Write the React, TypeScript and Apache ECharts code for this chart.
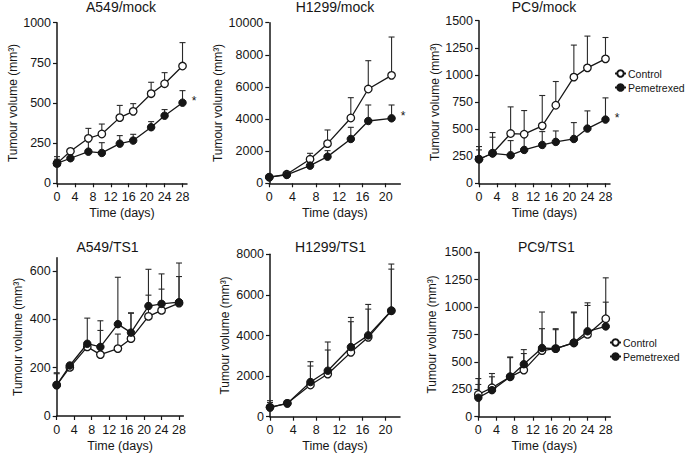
import React, { useEffect, useRef } from 'react';
import * as echarts from 'echarts';

// ---- data ----
const days28 = [0, 3, 7, 10, 14, 17, 21, 24, 28];
const days21 = [0, 3, 7, 10, 14, 17, 21];
const ticks28 = [0, 4, 8, 12, 16, 20, 24, 28];
const ticks20 = [0, 4, 8, 12, 16, 20];

const panelTitles = ['A549/mock', 'H1299/mock', 'PC9/mock', 'A549/TS1', 'H1299/TS1', 'PC9/TS1'];

// A549/mock
const a549MockControl = [124, 199, 280, 307, 409, 448, 558, 620, 730];
const a549MockControlTop = [166, null, 342, 369, 485, 496, 629, 689, 876];
const a549MockPem = [124, 156, 197, 189, 247, 266, 349, 421, 502];
const a549MockPemTop = [150, null, 270, 253, 297, 305, 384, 459, 577];
const a549MockYTicks = [0, 250, 500, 750, 1000];

// H1299/mock
const h1299MockControl = [380, 560, 1494, 2469, 4066, 5871, 6722];
const h1299MockControlTop = [null, null, 1867, 3320, 5332, 7635, 9108];
const h1299MockPem = [380, 520, 1100, 1660, 2760, 3880, 4046];
const h1299MockPemTop = [null, null, 1300, 2033, 3485, 4876, 4876];
const h1299MockYTicks = [0, 2000, 4000, 6000, 8000, 10000];

// PC9/mock
const pc9MockControl = [222, 277, 459, 453, 530, 720, 979, 1065, 1148];
const pc9MockControlTop = [339, 425, 705, 671, 810, 939, 1275, 1358, 1345];
const pc9MockPem = [222, 277, 259, 308, 354, 382, 409, 505, 588];
const pc9MockPemTop = [308, 468, 394, 477, 477, 483, 560, 668, 788];
const pc9MockYTicks = [0, 250, 500, 750, 1000, 1250, 1500];

// A549/TS1
const a549TsControl = [128, 201, 286, 254, 279, 320, 412, 437, 467];
const a549TsControlTop = [179, null, 300, 354, 339, 425, 500, 525, 577];
const a549TsPem = [128, 209, 299, 286, 380, 345, 455, 464, 471];
const a549TsPemTop = [175, null, 405, 394, 574, 427, 607, 588, 633];
const a549TsYTicks = [0, 200, 400, 600];

// H1299/TS1
const h1299TsControl = [460, 657, 1560, 2100, 3170, 3910, 5220];
const h1299TsControlTop = [790, null, 2496, 3285, 4680, 5300, 7270];
const h1299TsPem = [460, 657, 1707, 2266, 3430, 4006, 5220];
const h1299TsPemTop = [700, null, 2710, 3680, 4890, 5530, 7520];
const h1299TsYTicks = [0, 2000, 4000, 6000, 8000];

// PC9/TS1
const pc9TsControl = [203, 264, 364, 425, 603, 621, 673, 751, 894];
const pc9TsControlTop = [348, 394, 545, 612, 955, 803, 955, 1039, 1267];
const pc9TsPem = [173, 242, 364, 479, 627, 621, 676, 779, 824];
const pc9TsPemTop = [294, 364, 539, 576, 803, 794, 948, 1015, 1045];
const pc9TsYTicks = [0, 250, 500, 750, 1000, 1250, 1500];

const FONT = '"Liberation Sans", Arial, Helvetica, sans-serif';
const INK = '#161616';

type Panel = {
  title: string;
  days: number[];
  xTicks: number[];
  xMax: number;
  yTicks: number[];
  yMax: number;
  control: number[];
  controlTop: (number | null)[];
  pem: number[];
  pemTop: (number | null)[];
  star: boolean;
  grid: { left: number; top: number; width: number; height: number };
  titlePos: [number, number];
  nameGap: number;
};

const panels: Panel[] = [
  {
    title: panelTitles[0], days: days28, xTicks: ticks28, xMax: 29, yTicks: a549MockYTicks, yMax: 1000,
    control: a549MockControl, controlTop: a549MockControlTop, pem: a549MockPem, pemTop: a549MockPemTop, star: true,
    grid: { left: 57, top: 22.7, width: 130, height: 160.6 }, titlePos: [121, 8], nameGap: 36,
  },
  {
    title: panelTitles[1], days: days21, xTicks: ticks20, xMax: 22.5, yTicks: h1299MockYTicks, yMax: 10000,
    control: h1299MockControl, controlTop: h1299MockControlTop, pem: h1299MockPem, pemTop: h1299MockPemTop, star: true,
    grid: { left: 269.3, top: 22.7, width: 131, height: 160.6 }, titlePos: [335, 8], nameGap: 45,
  },
  {
    title: panelTitles[2], days: days28, xTicks: ticks28, xMax: 29, yTicks: pc9MockYTicks, yMax: 1500,
    control: pc9MockControl, controlTop: pc9MockControlTop, pem: pc9MockPem, pemTop: pc9MockPemTop, star: true,
    grid: { left: 479, top: 20.7, width: 131, height: 162.6 }, titlePos: [544, 8], nameGap: 38,
  },
  {
    title: panelTitles[3], days: days28, xTicks: ticks28, xMax: 29, yTicks: a549TsYTicks, yMax: 655,
    control: a549TsControl, controlTop: a549TsControlTop, pem: a549TsPem, pemTop: a549TsPemTop, star: false,
    grid: { left: 56.7, top: 257.7, width: 126.7, height: 158.3 }, titlePos: [107.5, 248], nameGap: 33,
  },
  {
    title: panelTitles[4], days: days21, xTicks: ticks20, xMax: 22.5, yTicks: h1299TsYTicks, yMax: 8000,
    control: h1299TsControl, controlTop: h1299TsControlTop, pem: h1299TsPem, pemTop: h1299TsPemTop, star: false,
    grid: { left: 270, top: 254.3, width: 130, height: 162.4 }, titlePos: [330.5, 248], nameGap: 39,
  },
  {
    title: panelTitles[5], days: days28, xTicks: ticks28, xMax: 29, yTicks: pc9TsYTicks, yMax: 1500,
    control: pc9TsControl, controlTop: pc9TsControlTop, pem: pc9TsPem, pemTop: pc9TsPemTop, star: false,
    grid: { left: 478.3, top: 252.3, width: 132, height: 164.4 }, titlePos: [546.3, 248], nameGap: 40,
  },
];

function errRender(params: any, api: any) {
  const x = api.value(0);
  const y = api.value(1);
  const top = api.value(2);
  const p0 = api.coord([x, y]);
  const p1 = api.coord([x, top]);
  const w = 3;
  const style = { stroke: '#2a2a2a', lineWidth: 1.1 };
  return {
    type: 'group',
    children: [
      { type: 'line', shape: { x1: p0[0], y1: p0[1], x2: p1[0], y2: p1[1] }, style },
      { type: 'line', shape: { x1: p1[0] - w, y1: p1[1], x2: p1[0] + w, y2: p1[1] }, style },
    ],
  };
}

const plain = (v: number) => String(v);

function buildOption() {
  const grids: any[] = [];
  const xAxes: any[] = [];
  const yAxes: any[] = [];
  const series: any[] = [];
  const titles: any[] = [];

  panels.forEach((p, i) => {
    grids.push({ ...p.grid, containLabel: false });
    titles.push({
      text: p.title,
      left: p.titlePos[0],
      top: p.titlePos[1] - 8,
      textAlign: 'center',
      textStyle: { fontFamily: FONT, fontSize: 14, fontWeight: 'normal', color: INK },
      padding: 0,
    });
    xAxes.push({
      gridIndex: i,
      type: 'value',
      min: 0,
      max: p.xMax,
      axisLine: { show: true, onZero: false, lineStyle: { color: INK, width: 1.5 } },
      axisTick: { show: true, length: 4, customValues: p.xTicks, lineStyle: { color: INK, width: 1.2 } },
      axisLabel: { customValues: p.xTicks, formatter: plain, margin: 7, fontSize: 12.5, color: INK, fontFamily: FONT },
      splitLine: { show: false },
      name: 'Time (days)',
      nameLocation: 'middle',
      nameGap: 23,
      nameTextStyle: { fontSize: 12.5, color: INK, fontFamily: FONT },
    });
    yAxes.push({
      gridIndex: i,
      type: 'value',
      min: 0,
      max: p.yMax,
      axisLine: { show: true, onZero: false, lineStyle: { color: INK, width: 1.5 } },
      axisTick: { show: true, length: 4, customValues: p.yTicks, lineStyle: { color: INK, width: 1.2 } },
      axisLabel: { customValues: p.yTicks, formatter: plain, margin: 6, fontSize: 12.5, color: INK, fontFamily: FONT },
      splitLine: { show: false },
      name: 'Tumour volume (mm³)',
      nameLocation: 'middle',
      nameRotate: 90,
      nameGap: p.nameGap,
      nameTextStyle: { fontSize: 12, color: INK, fontFamily: FONT },
    });

    const errData = (vals: number[], tops: (number | null)[]) =>
      p.days
        .map((d, k) => (tops[k] == null ? null : [d, vals[k], tops[k]]))
        .filter((v) => v !== null);

    series.push({
      type: 'custom',
      name: 'errC' + i,
      xAxisIndex: i,
      yAxisIndex: i,
      renderItem: errRender,
      data: errData(p.control, p.controlTop),
      z: 1,
      silent: true,
    });
    series.push({
      type: 'custom',
      name: 'errP' + i,
      xAxisIndex: i,
      yAxisIndex: i,
      renderItem: errRender,
      data: errData(p.pem, p.pemTop),
      z: 1,
      silent: true,
    });
    series.push({
      type: 'line',
      name: 'Control',
      xAxisIndex: i,
      yAxisIndex: i,
      data: p.days.map((d, k) => [d, p.control[k]]),
      symbol: 'circle',
      symbolSize: 7.5,
      showAllSymbol: true,
      lineStyle: { color: INK, width: 1.3 },
      itemStyle: { color: '#ffffff', borderColor: INK, borderWidth: 1.3 },
      z: 3,
    });
    series.push({
      type: 'line',
      name: 'Pemetrexed',
      xAxisIndex: i,
      yAxisIndex: i,
      data: p.days.map((d, k) => {
        const last = k === p.days.length - 1;
        if (last && p.star) {
          return {
            value: [d, p.pem[k]],
            label: {
              show: true,
              position: 'right',
              distance: 5,
              offset: [0, -2],
              formatter: '*',
              fontSize: 12,
              color: INK,
              fontFamily: FONT,
            },
          };
        }
        return [d, p.pem[k]];
      }),
      symbol: 'circle',
      symbolSize: 7.5,
      showAllSymbol: true,
      lineStyle: { color: INK, width: 1.3 },
      itemStyle: { color: INK, borderColor: INK, borderWidth: 1 },
      z: 4,
    });
  });

  const legendBase = {
    orient: 'vertical',
    selectedMode: false,
    itemWidth: 11,
    itemHeight: 8,
    itemGap: 3,
    padding: 0,
    textStyle: { fontFamily: FONT, fontSize: 10.5, color: INK, padding: [0, 0, 0, -3] },
    data: ['Control', 'Pemetrexed'],
  };

  return {
    animation: false,
    backgroundColor: '#ffffff',
    title: titles,
    grid: grids,
    xAxis: xAxes,
    yAxis: yAxes,
    series,
    legend: [
      { ...legendBase, left: 614, top: 68 },
      { ...legendBase, left: 609, top: 337 },
    ],
  };
}

export default function App() {
  const ref = useRef<HTMLDivElement>(null);
  useEffect(() => {
    if (!ref.current) return;
    const chart = echarts.init(ref.current, null, { renderer: 'svg' });
    chart.setOption(buildOption() as any);
    return () => chart.dispose();
  }, []);
  return (
    <div
      ref={ref}
      style={{ width: 685, height: 454, position: 'absolute', left: 0, top: 0, background: '#fff' }}
    />
  );
}
